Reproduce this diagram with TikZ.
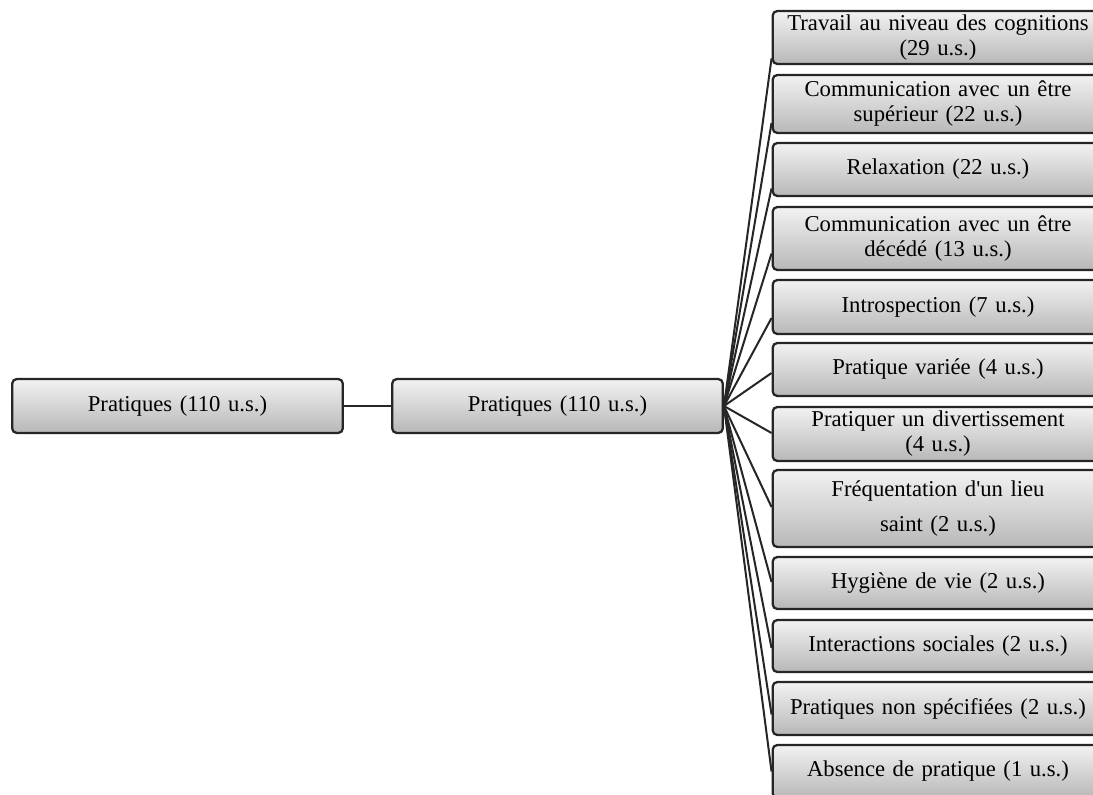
\documentclass[tikz,border=0pt]{standalone}
\usepackage{fontspec}
\setmainfont{Liberation Serif}
\usetikzlibrary{calc}
\begin{document}
\begin{tikzpicture}[x=0.75pt,y=-0.75pt,
  box/.style={draw=black!85, line width=1.7pt, rounded corners=3.5pt,
    top color=black!5, bottom color=black!28,
    minimum width=248pt, text width=240pt, align=center, inner sep=0pt,
    font=\fontsize{17}{18.75}\selectfont},
  link/.style={draw=black!85, line width=1.5pt}]
\useasboundingbox (0,0) rectangle (1093,795);
\fill[white] (0,0) rectangle (1093,795);
\clip (0,0) rectangle (1093,795);

% root and its single child
\node[box, minimum height=40.5pt] (root) at (177.5,406) {Pratiques (110 u.s.)};
\node[box, minimum height=40.5pt] (mid) at (557.5,406) {Pratiques (110 u.s.)};

% categories, stacked on the right
\node[box, minimum height=39.75pt] (c1) at (938,37.5) {Travail au niveau des cognitions\\(29 u.s.)};
\node[box, minimum height=43.5pt] (c2) at (938,104) {Communication avec un être\\supérieur (22 u.s.)};
\node[box, minimum height=39.75pt] (c3) at (938,169.5) {Relaxation (22 u.s.)};
\node[box, minimum height=47.25pt] (c4) at (938,238.5) {Communication avec un être\\décédé (13 u.s.)};
\node[box, minimum height=40.5pt] (c5) at (938,307) {Introspection (7 u.s.)};
\node[box, minimum height=39.75pt] (c6) at (938,369.5) {Pratique variée (4 u.s.)};
\node[box, minimum height=40.5pt] (c7) at (938,434) {Pratiquer un divertissement\\(4 u.s.)};
\node[box, minimum height=57.75pt] (c8) at (938,508.5) {Fréquentation d\textquotesingle un lieu\\[8pt]saint (2 u.s.)};
\node[box, minimum height=39pt] (c9) at (938,583) {Hygiène de vie (2 u.s.)};
\node[box, minimum height=39pt] (c10) at (938,646) {Interactions sociales (2 u.s.)};
\node[box, minimum height=39.75pt] (c11) at (938,708.5) {Pratiques non spécifiées (2 u.s.)};
\node[box, minimum height=39.75pt] (c12) at (938,771.5) {Absence de pratique (1 u.s.)};

% connectors
\draw[link] (root.east) -- (mid.west);
\draw[link] (mid.east) -- ($(c1.west)+(0,21)$);
\draw[link] (mid.east) -- ($(c2.west)+(0,19)$);
\draw[link] (mid.east) -- ($(c3.west)+(0,19)$);
\draw[link] (mid.east) -- ($(c4.west)+(0,15)$);
\draw[link] (mid.east) -- ($(c5.west)+(0,11)$);
\draw[link] (mid.east) -- ($(c6.west)+(0,3.5)$);
\draw[link] (mid.east) -- ($(c7.west)+(0,-1)$);
\draw[link] (mid.east) -- ($(c8.west)+(0,-1.5)$);
\draw[link] (mid.east) -- ($(c9.west)+(0,-1)$);
\draw[link] (mid.east) -- ($(c10.west)+(0,2)$);
\draw[link] (mid.east) -- ($(c11.west)+(0,6)$);
\draw[link] (mid.east) -- ($(c12.west)+(0,0)$);
\end{tikzpicture}
\end{document}
